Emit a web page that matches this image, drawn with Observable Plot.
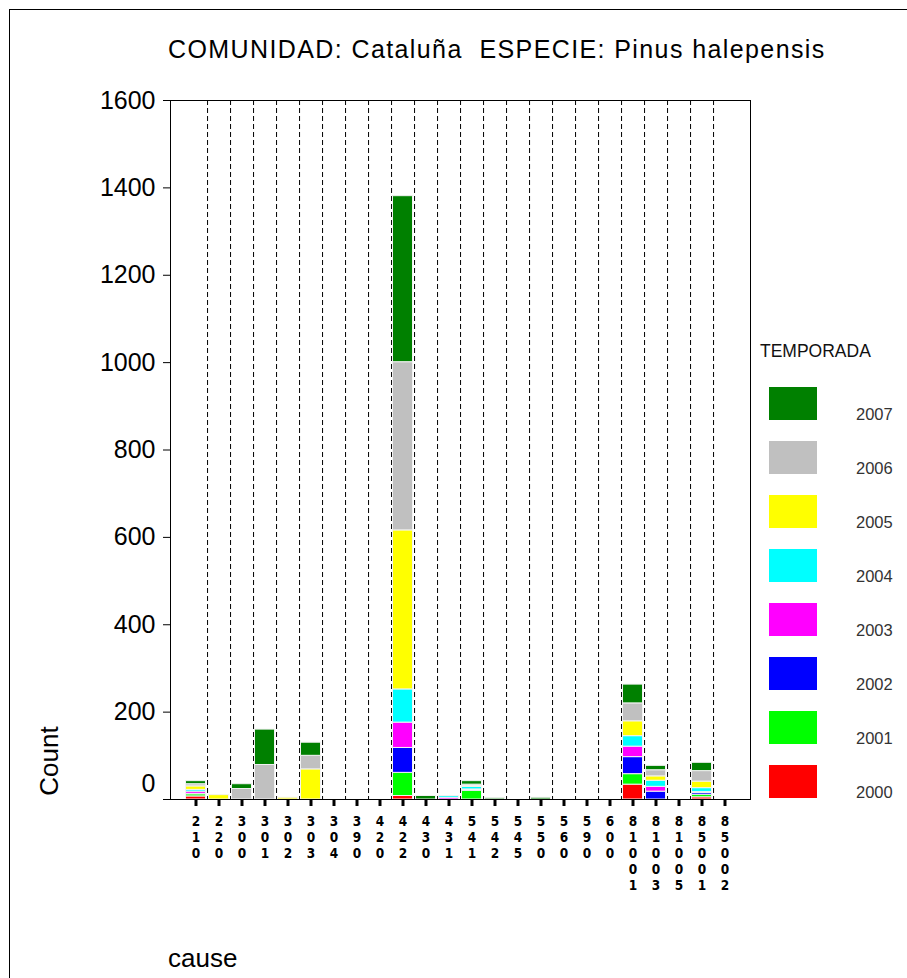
<!DOCTYPE html>
<html>
<head>
<meta charset="utf-8">
<script src="https://cdn.jsdelivr.net/npm/d3@7"></script>
<script src="https://cdn.jsdelivr.net/npm/@observablehq/plot@0.6"></script>
<style>
  html, body { margin: 0; padding: 0; background: #fff; }
  #wrap { position: relative; width: 907px; height: 978px; overflow: hidden; font-family: "Liberation Sans", Arial, sans-serif; color: #000; }
  #wrap svg { position: absolute; left: 0; top: 0; }
  #border { position: absolute; left: 9px; top: 9px; width: 2000px; height: 2000px; border-left: 1.5px solid #000; border-top: 1.5px solid #000; pointer-events: none; }
  #title { position: absolute; left: 168px; top: 37px; font-size: 25px; line-height: 25px; letter-spacing: 1.4px; white-space: pre; }
  #ylab { position: absolute; left: 49px; top: 761px; font-size: 26px; line-height: 26px; transform: translate(-50%, -50%) rotate(-90deg); white-space: pre; }
  #xlab { position: absolute; left: 168px; top: 945px; font-size: 26px; line-height: 26px; }
  #legTitle { position: absolute; left: 760px; top: 343px; font-size: 17.5px; line-height: 17.5px; color: #111; }
  .sw { position: absolute; left: 769px; width: 48px; height: 33px; }
  .swl { position: absolute; left: 856px; font-size: 16.5px; line-height: 16.5px; color: #333; }
</style>
</head>
<body>
<div id="wrap">
  <div id="title">COMUNIDAD: Cataluña  ESPECIE: Pinus halepensis</div>
  <div id="ylab">Count</div>
  <div id="xlab">cause</div>
  <div id="legTitle">TEMPORADA</div>
</div>
<script>
// ---- data ----
const causes = ["210","220","300","301","302","303","304","390","420","422","430","431","541","542","545","550","560","590","600","81001","81003","81005","85001","85002"];
const years = ["2000","2001","2002","2003","2004","2005","2006","2007"];
const colors = ["#FF0000","#00FF00","#0000FF","#FF00FF","#00FFFF","#FFFF00","#C0C0C0","#008000"];
const yTicks = [0,200,400,600,800,1000,1200,1400,1600];
//               210 220 300 301 302 303 304 390 420 422 430 431 541 542 545 550 560 590 600 81001 81003 81005 85001 85002
const v2000 = [   7,  0,  0,  0,  0,  0,  0,  0,  0,   8,  0,  0,  0,  0,  0,  0,  0,  0,  0,  34,   0,   0,   5,   0];
const v2001 = [   5,  0,  0,  0,  0,  0,  0,  0,  0,  53,  0,  0, 20,  0,  0,  0,  0,  0,  0,  24,   0,   0,   6,   0];
const v2002 = [   1,  0,  0,  0,  0,  0,  0,  0,  0,  57,  0,  0,  1,  0,  0,  0,  0,  0,  0,  39,  18,   0,   4,   0];
const v2003 = [   5,  0,  0,  0,  0,  0,  0,  0,  0,  58,  0,  4,  2,  0,  0,  0,  0,  0,  0,  24,  11,   0,   2,   0];
const v2004 = [   4,  0,  0,  0,  0,  0,  0,  0,  0,  76,  0,  4,  6,  0,  0,  0,  0,  0,  0,  24,  14,   0,   9,   0];
const v2005 = [   8, 10,  0,  0,  4, 69,  0,  0,  0, 364,  0,  0,  2,  0,  0,  0,  0,  0,  0,  34,  10,   0,  15,   0];
const v2006 = [   5,  0, 24, 79,  0, 31,  0,  0,  0, 385,  0,  0,  3,  0,  0,  0,  0,  0,  0,  41,  14,   0,  24,   0];
const v2007 = [   7,  0, 11, 81,  0, 30,  0,  0,  0, 380,  8,  0,  8,  3,  0,  4,  0,  0,  0,  43,  10,   0,  19,   0];
const series = [v2000, v2001, v2002, v2003, v2004, v2005, v2006, v2007];

// ---- table ----
const rows = [];
causes.forEach((c, i) => {
  years.forEach((yr, j) => {
    const v = series[j][i];
    if (v > 0) rows.push({cause: c, year: yr, value: v});
  });
});

const W = 907, H = 978, mL = 170, mR = 157, mT = 100, mB = 179;
const padOuter = 0.55;
const step = (W - mL - mR) / (causes.length + 2 * padOuter);
const font = "Liberation Sans, Arial, sans-serif";
const narrow = "Liberation Sans Narrow, DejaVu Sans Condensed, Arial Narrow, sans-serif";

const chart = Plot.plot({
  width: W, height: H,
  marginLeft: mL, marginRight: mR, marginTop: mT, marginBottom: mB,
  style: {background: "transparent", fontFamily: font, overflow: "visible"},
  x: {type: "band", domain: causes, paddingInner: 0, paddingOuter: padOuter, axis: null},
  y: {domain: [0, 1600], axis: null},
  color: {type: "ordinal", domain: years, range: colors},
  marks: [
    Plot.ruleX(causes.slice(0, -1), {x: d => d, dx: step / 2, stroke: "#000", strokeWidth: 1, strokeDasharray: "5,3"}),
    Plot.barY(rows, {x: "cause", y: "value", fill: "year", stroke: "#f2f2f2", strokeWidth: 1, insetLeft: 1.5, insetRight: 1.5}),
    Plot.frame({stroke: "#000", strokeWidth: 1}),
    Plot.axisY({ticks: yTicks, tickSize: 7, tickPadding: 8, fontSize: 25, fontFamily: font, label: null,
                tickFormat: d => d === 0 ? "" : String(d)}),
    Plot.text([0], {y: d => d, frameAnchor: "left", textAnchor: "end", dx: -15, dy: -16, fontSize: 25, fontFamily: font, text: d => String(d)}),
    Plot.axisX({ticks: causes, tickSize: 7, strokeWidth: 3, label: null, tickFormat: () => ""}),
    Plot.text(causes, {x: d => d, text: d => d.split("").join("\n"), frameAnchor: "bottom", lineAnchor: "top",
                       dy: 15, fontSize: 13.5, fontWeight: "bold", fontFamily: narrow, lineHeight: 16 / 13.5, fill: "#000"})
  ]
});

const wrap = document.getElementById("wrap");
wrap.insertBefore(chart, wrap.firstChild);

// legend (HTML, built from the same arrays)
const order = years.slice().reverse();
order.forEach((yr, k) => {
  const idx = years.indexOf(yr);
  const sw = document.createElement("div");
  sw.className = "sw";
  sw.style.top = (387 + k * 54) + "px";
  sw.style.background = colors[idx];
  wrap.appendChild(sw);
  const lb = document.createElement("div");
  lb.className = "swl";
  lb.style.top = (406 + k * 54) + "px";
  lb.textContent = yr;
  wrap.appendChild(lb);
});
const border = document.createElement("div");
border.id = "border";
wrap.appendChild(border);
</script>
</body>
</html>
